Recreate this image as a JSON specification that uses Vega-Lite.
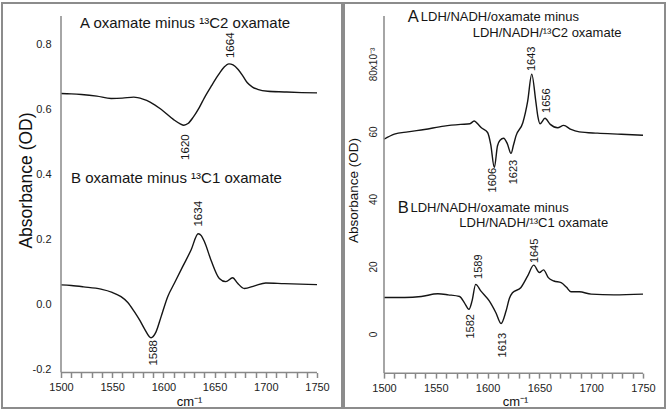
{
  "$schema": "https://vega.github.io/schema/vega-lite/v6.json",
  "padding": {"left": 1, "top": 2, "right": 0, "bottom": 0},
  "spacing": 2,
  "bounds": "flush",
  "config": {
    "view": {"stroke": "#8c8c8c", "strokeWidth": 2},
    "font": "Liberation Sans",
    "axis": {"labelFont": "Liberation Sans", "titleFont": "Liberation Sans", "titleFontWeight": "normal", "labelColor": "#222", "titleColor": "#111", "grid": false, "labelFlush": false}
  },
  "datasets": {
    "panels": [{"panel": "left"}, {"panel": "right"}],
    "leftCurves": [
      {"trace": "A", "w": 1500, "a": 0.648}, {"trace": "A", "w": 1510, "a": 0.647}, {"trace": "A", "w": 1520, "a": 0.645},
      {"trace": "A", "w": 1535, "a": 0.640}, {"trace": "A", "w": 1549, "a": 0.633}, {"trace": "A", "w": 1560, "a": 0.634},
      {"trace": "A", "w": 1571, "a": 0.637}, {"trace": "A", "w": 1580, "a": 0.631}, {"trace": "A", "w": 1587, "a": 0.622},
      {"trace": "A", "w": 1598, "a": 0.599}, {"trace": "A", "w": 1610, "a": 0.568}, {"trace": "A", "w": 1616, "a": 0.556},
      {"trace": "A", "w": 1620, "a": 0.551}, {"trace": "A", "w": 1624, "a": 0.556}, {"trace": "A", "w": 1629, "a": 0.575},
      {"trace": "A", "w": 1635, "a": 0.605}, {"trace": "A", "w": 1640, "a": 0.635}, {"trace": "A", "w": 1647, "a": 0.672},
      {"trace": "A", "w": 1653, "a": 0.702}, {"trace": "A", "w": 1659, "a": 0.728}, {"trace": "A", "w": 1664, "a": 0.739},
      {"trace": "A", "w": 1668, "a": 0.736}, {"trace": "A", "w": 1673, "a": 0.722}, {"trace": "A", "w": 1678, "a": 0.700},
      {"trace": "A", "w": 1682, "a": 0.681}, {"trace": "A", "w": 1687, "a": 0.668}, {"trace": "A", "w": 1692, "a": 0.661},
      {"trace": "A", "w": 1702, "a": 0.655}, {"trace": "A", "w": 1718, "a": 0.653}, {"trace": "A", "w": 1735, "a": 0.651},
      {"trace": "A", "w": 1750, "a": 0.650},
      {"trace": "B", "w": 1500, "a": 0.061}, {"trace": "B", "w": 1510, "a": 0.059}, {"trace": "B", "w": 1522, "a": 0.055},
      {"trace": "B", "w": 1539, "a": 0.048}, {"trace": "B", "w": 1550, "a": 0.038}, {"trace": "B", "w": 1558.6, "a": 0.025},
      {"trace": "B", "w": 1565, "a": 0.008}, {"trace": "B", "w": 1571.6, "a": -0.021}, {"trace": "B", "w": 1577, "a": -0.048},
      {"trace": "B", "w": 1581.4, "a": -0.073}, {"trace": "B", "w": 1587.9, "a": -0.101}, {"trace": "B", "w": 1592.8, "a": -0.083},
      {"trace": "B", "w": 1597.7, "a": -0.037}, {"trace": "B", "w": 1604.2, "a": 0.025}, {"trace": "B", "w": 1610.7, "a": 0.066},
      {"trace": "B", "w": 1618.8, "a": 0.117}, {"trace": "B", "w": 1627, "a": 0.168}, {"trace": "B", "w": 1634, "a": 0.218},
      {"trace": "B", "w": 1637, "a": 0.212}, {"trace": "B", "w": 1640, "a": 0.194}, {"trace": "B", "w": 1646.5, "a": 0.137},
      {"trace": "B", "w": 1654.6, "a": 0.081}, {"trace": "B", "w": 1661, "a": 0.071}, {"trace": "B", "w": 1667.6, "a": 0.083},
      {"trace": "B", "w": 1672.5, "a": 0.066}, {"trace": "B", "w": 1679, "a": 0.050}, {"trace": "B", "w": 1689, "a": 0.058},
      {"trace": "B", "w": 1700, "a": 0.067}, {"trace": "B", "w": 1718, "a": 0.065}, {"trace": "B", "w": 1750, "a": 0.062}
    ],
    "rightCurves": [
      {"trace": "A", "w": 1500, "a": 57.7}, {"trace": "A", "w": 1510, "a": 59.2}, {"trace": "A", "w": 1523, "a": 59.9},
      {"trace": "A", "w": 1539, "a": 60.6}, {"trace": "A", "w": 1558, "a": 61.6}, {"trace": "A", "w": 1574, "a": 62.1},
      {"trace": "A", "w": 1583, "a": 62.3}, {"trace": "A", "w": 1587, "a": 63.1}, {"trace": "A", "w": 1590, "a": 62.4},
      {"trace": "A", "w": 1594, "a": 61.1}, {"trace": "A", "w": 1600, "a": 59.7}, {"trace": "A", "w": 1603, "a": 56.2},
      {"trace": "A", "w": 1606.5, "a": 49.3}, {"trace": "A", "w": 1609.5, "a": 55.7}, {"trace": "A", "w": 1612, "a": 57.4},
      {"trace": "A", "w": 1615.5, "a": 58.0}, {"trace": "A", "w": 1619, "a": 56.4}, {"trace": "A", "w": 1622.6, "a": 53.5},
      {"trace": "A", "w": 1625, "a": 56.0}, {"trace": "A", "w": 1627.4, "a": 58.7}, {"trace": "A", "w": 1634, "a": 62.6},
      {"trace": "A", "w": 1638.7, "a": 69.0}, {"trace": "A", "w": 1642.6, "a": 77.0}, {"trace": "A", "w": 1646.5, "a": 69.0},
      {"trace": "A", "w": 1648.5, "a": 64.5}, {"trace": "A", "w": 1650.6, "a": 62.3}, {"trace": "A", "w": 1655.4, "a": 63.9},
      {"trace": "A", "w": 1660.5, "a": 62.1}, {"trace": "A", "w": 1667.6, "a": 61.1}, {"trace": "A", "w": 1673.4, "a": 61.8},
      {"trace": "A", "w": 1680.5, "a": 60.6}, {"trace": "A", "w": 1688.5, "a": 59.9}, {"trace": "A", "w": 1706, "a": 59.5},
      {"trace": "A", "w": 1729, "a": 59.2}, {"trace": "A", "w": 1750, "a": 58.9},
      {"trace": "B", "w": 1500, "a": 10.8}, {"trace": "B", "w": 1520, "a": 10.8}, {"trace": "B", "w": 1536, "a": 11.1},
      {"trace": "B", "w": 1552, "a": 11.9}, {"trace": "B", "w": 1562, "a": 11.6}, {"trace": "B", "w": 1573, "a": 11.1},
      {"trace": "B", "w": 1577.5, "a": 9.3}, {"trace": "B", "w": 1582, "a": 7.3}, {"trace": "B", "w": 1585, "a": 9.8},
      {"trace": "B", "w": 1588.5, "a": 14.7}, {"trace": "B", "w": 1593.6, "a": 12.7}, {"trace": "B", "w": 1601.6, "a": 9.8},
      {"trace": "B", "w": 1608, "a": 6.3}, {"trace": "B", "w": 1613, "a": 3.1}, {"trace": "B", "w": 1617.8, "a": 6.8},
      {"trace": "B", "w": 1621, "a": 10.5}, {"trace": "B", "w": 1624, "a": 12.2}, {"trace": "B", "w": 1632, "a": 13.7},
      {"trace": "B", "w": 1638.7, "a": 17.2}, {"trace": "B", "w": 1644.5, "a": 20.4}, {"trace": "B", "w": 1650, "a": 18.2},
      {"trace": "B", "w": 1654, "a": 19.0}, {"trace": "B", "w": 1658.6, "a": 16.7}, {"trace": "B", "w": 1664, "a": 15.7},
      {"trace": "B", "w": 1671, "a": 15.2}, {"trace": "B", "w": 1676, "a": 13.9}, {"trace": "B", "w": 1680.5, "a": 12.5},
      {"trace": "B", "w": 1688.5, "a": 12.5}, {"trace": "B", "w": 1700, "a": 11.8}, {"trace": "B", "w": 1722, "a": 11.6},
      {"trace": "B", "w": 1750, "a": 11.8}
    ],
    "leftPeaks": [
      {"w": 1666, "a": 0.757, "label": "1664", "kind": "max"},
      {"w": 1622, "a": 0.523, "label": "1620", "kind": "min"},
      {"w": 1634.5, "a": 0.240, "label": "1634", "kind": "max"},
      {"w": 1591, "a": -0.108, "label": "1588", "kind": "min"}
    ],
    "rightPeaks": [
      {"w": 1642.9, "a": 77.9, "label": "1643", "kind": "max"},
      {"w": 1657.4, "a": 65.5, "label": "1656", "kind": "max"},
      {"w": 1605.6, "a": 49.2, "label": "1606", "kind": "min"},
      {"w": 1625.5, "a": 51.6, "label": "1623", "kind": "min"},
      {"w": 1591.8, "a": 16.3, "label": "1589", "kind": "max"},
      {"w": 1583.9, "a": 5.9, "label": "1582", "kind": "min"},
      {"w": 1614.6, "a": 0.3, "label": "1613", "kind": "min"},
      {"w": 1646, "a": 21.0, "label": "1645", "kind": "max"}
    ],
    "leftTitles": [
      {"w": 1518.6, "a": 0.865, "text": "A oxamate minus ¹³C2 oxamate"},
      {"w": 1509.8, "a": 0.388, "text": "B oxamate minus ¹³C1 oxamate"}
    ],
    "rightTitles": [
      {"w": 1522.9, "a": 94.0, "text": "A", "role": "letter"},
      {"w": 1513.2, "a": 37.4, "text": "B", "role": "letter"},
      {"w": 1535.5, "a": 93.8, "text": "LDH/NADH/oxamate minus", "role": "text"},
      {"w": 1585.6, "a": 89.1, "text": "LDH/NADH/¹³C2 oxamate", "role": "text"},
      {"w": 1525.5, "a": 37.2, "text": "LDH/NADH/oxamate minus", "role": "text"},
      {"w": 1572.7, "a": 33.0, "text": "LDH/NADH/¹³C1 oxamate", "role": "text"}
    ]
  },
  "hconcat": [
    {
      "width": 340,
      "height": 405,
      "resolve": {"axis": {"x": "independent"}},
      "layer": [
        {
          "data": {"name": "leftCurves"},
          "mark": {"type": "line", "color": "#151515", "strokeWidth": 1.4, "interpolate": "monotone"},
          "encoding": {
            "x": {"field": "w", "type": "quantitative",
              "scale": {"domain": [1442.38, 1774.41], "nice": false, "zero": false},
              "axis": {"orient": "bottom", "values": [1500, 1550, 1600, 1650, 1700, 1750],
                "offset": -35.5, "domain": false, "tickSize": 5, "tickColor": "#888888", "tickWidth": 1.5,
                "format": "d", "labelFontSize": 11, "labelPadding": 4,
                "title": "cm⁻¹", "titleFontSize": 13, "titleX": 187, "titleY": 28.5, "titleBaseline": "middle", "titleAlign": "center"}},
            "y": {"field": "a", "type": "quantitative",
              "scale": {"domain": [-0.3166, 0.9258], "nice": false, "zero": false},
              "axis": {"values": [-0.2, 0, 0.2, 0.4, 0.6, 0.8], "offset": -59, "domain": false, "ticks": false, "tickSize": 0,
                "labelExpr": "replace(format(datum.value, '.1f'), '−', '-')", "labelFontSize": 11, "labelPadding": 10,
                "title": "Absorbance (OD)", "titleFontSize": 17.5, "titleX": -35, "titleY": 177, "titleAngle": 270, "titleAlign": "center", "titleBaseline": "middle"}},
            "detail": {"field": "trace"}
          }
        },
        {
          "data": {"name": "panels"},
          "transform": [{"filter": "datum.panel == 'left'"}],
          "mark": {"type": "rule", "stroke": "#888888", "strokeWidth": 1.5},
          "encoding": {
            "x": {"datum": 1500, "type": "quantitative",
              "axis": {"orient": "bottom", "values": [1510,1520,1530,1540,1560,1570,1580,1590,1610,1620,1630,1640,1660,1670,1680,1690,1710,1720,1730,1740],
                "offset": -35.5, "domain": false, "labels": false, "tickSize": 5, "tickColor": "#888888", "tickWidth": 1.5, "title": null}},
            "x2": {"datum": 1750},
            "y": {"datum": -0.2077, "type": "quantitative"}
          }
        },
        {
          "data": {"name": "panels"},
          "transform": [{"filter": "datum.panel == 'left'"}],
          "mark": {"type": "rule", "stroke": "#888888", "strokeWidth": 1.5},
          "encoding": {"x": {"datum": 1500, "type": "quantitative", "axis": null}, "y": {"datum": -0.2077, "type": "quantitative"}, "y2": {"datum": 0.886}}
        },
        {
          "data": {"name": "leftPeaks"},
          "transform": [{"filter": "datum.kind == 'max'"}],
          "mark": {"type": "text", "angle": 270, "align": "left", "baseline": "middle", "fontSize": 11.5, "color": "#151515"},
          "encoding": {"x": {"field": "w", "type": "quantitative", "axis": null}, "y": {"field": "a", "type": "quantitative"}, "text": {"field": "label"}}
        },
        {
          "data": {"name": "leftPeaks"},
          "transform": [{"filter": "datum.kind == 'min'"}],
          "mark": {"type": "text", "angle": 270, "align": "right", "baseline": "middle", "fontSize": 11.5, "color": "#151515"},
          "encoding": {"x": {"field": "w", "type": "quantitative", "axis": null}, "y": {"field": "a", "type": "quantitative"}, "text": {"field": "label"}}
        },
        {
          "data": {"name": "leftTitles"},
          "mark": {"type": "text", "align": "left", "baseline": "middle", "fontSize": 15, "color": "#151515"},
          "encoding": {"x": {"field": "w", "type": "quantitative", "axis": null}, "y": {"field": "a", "type": "quantitative"}, "text": {"field": "text"}}
        }
      ]
    },
    {
      "width": 321,
      "height": 405,
      "resolve": {"axis": {"x": "independent"}},
      "layer": [
        {
          "data": {"name": "rightCurves"},
          "mark": {"type": "line", "color": "#151515", "strokeWidth": 1.4, "interpolate": "monotone"},
          "encoding": {
            "x": {"field": "w", "type": "quantitative",
              "scale": {"domain": [1461.39, 1771.24], "nice": false, "zero": false},
              "axis": {"orient": "bottom", "values": [1500, 1550, 1600, 1650, 1700, 1750],
                "offset": -34.9, "domain": false, "tickSize": 5, "tickColor": "#888888", "tickWidth": 1.5,
                "format": "d", "labelFontSize": 11, "labelPadding": 4,
                "title": "cm⁻¹", "titleFontSize": 13, "titleX": 171, "titleY": 28.5, "titleBaseline": "middle", "titleAlign": "center"}},
            "y": {"field": "a", "type": "quantitative",
              "scale": {"domain": [-21.93, 98.07], "nice": false, "zero": false},
              "axis": {"values": [0, 20, 40, 60, 80], "offset": -40, "domain": false, "ticks": false, "tickSize": 0,
                "labelExpr": "datum.value == 80 ? '80x10⁻³' : datum.label", "labelFontSize": 10, "labelPadding": 7.5,
                "labelAngle": 270, "labelAlign": "center", "labelBaseline": "alphabetic",
                "title": "Absorbance (OD)", "titleFontSize": 13.5, "titleX": -31, "titleY": 187, "titleAngle": 270, "titleAlign": "center", "titleBaseline": "middle"}},
            "detail": {"field": "trace"}
          }
        },
        {
          "data": {"name": "panels"},
          "transform": [{"filter": "datum.panel == 'right'"}],
          "mark": {"type": "rule", "stroke": "#888888", "strokeWidth": 1.5},
          "encoding": {
            "x": {"datum": 1500, "type": "quantitative",
              "axis": {"orient": "bottom", "values": [1510,1520,1530,1540,1560,1570,1580,1590,1610,1620,1630,1640,1660,1670,1680,1690,1710,1720,1730,1740],
                "offset": -34.9, "domain": false, "labels": false, "tickSize": 5, "tickColor": "#888888", "tickWidth": 1.5, "title": null}},
            "x2": {"datum": 1750},
            "y": {"datum": -11.6, "type": "quantitative"}
          }
        },
        {
          "data": {"name": "panels"},
          "transform": [{"filter": "datum.panel == 'right'"}],
          "mark": {"type": "rule", "stroke": "#888888", "strokeWidth": 1.5},
          "encoding": {"x": {"datum": 1500, "type": "quantitative", "axis": null}, "y": {"datum": -11.6, "type": "quantitative"}, "y2": {"datum": 94.2}}
        },
        {
          "data": {"name": "rightPeaks"},
          "transform": [{"filter": "datum.kind == 'max'"}],
          "mark": {"type": "text", "angle": 270, "align": "left", "baseline": "middle", "fontSize": 11, "color": "#151515"},
          "encoding": {"x": {"field": "w", "type": "quantitative", "axis": null}, "y": {"field": "a", "type": "quantitative"}, "text": {"field": "label"}}
        },
        {
          "data": {"name": "rightPeaks"},
          "transform": [{"filter": "datum.kind == 'min'"}],
          "mark": {"type": "text", "angle": 270, "align": "right", "baseline": "middle", "fontSize": 11, "color": "#151515"},
          "encoding": {"x": {"field": "w", "type": "quantitative", "axis": null}, "y": {"field": "a", "type": "quantitative"}, "text": {"field": "label"}}
        },
        {
          "data": {"name": "rightTitles"},
          "transform": [{"filter": "datum.role == 'letter'"}],
          "mark": {"type": "text", "align": "left", "baseline": "middle", "fontSize": 16.5, "color": "#151515"},
          "encoding": {"x": {"field": "w", "type": "quantitative", "axis": null}, "y": {"field": "a", "type": "quantitative"}, "text": {"field": "text"}}
        },
        {
          "data": {"name": "rightTitles"},
          "transform": [{"filter": "datum.role == 'text'"}],
          "mark": {"type": "text", "align": "left", "baseline": "middle", "fontSize": 13, "color": "#151515"},
          "encoding": {"x": {"field": "w", "type": "quantitative", "axis": null}, "y": {"field": "a", "type": "quantitative"}, "text": {"field": "text"}}
        }
      ]
    }
  ]
}
